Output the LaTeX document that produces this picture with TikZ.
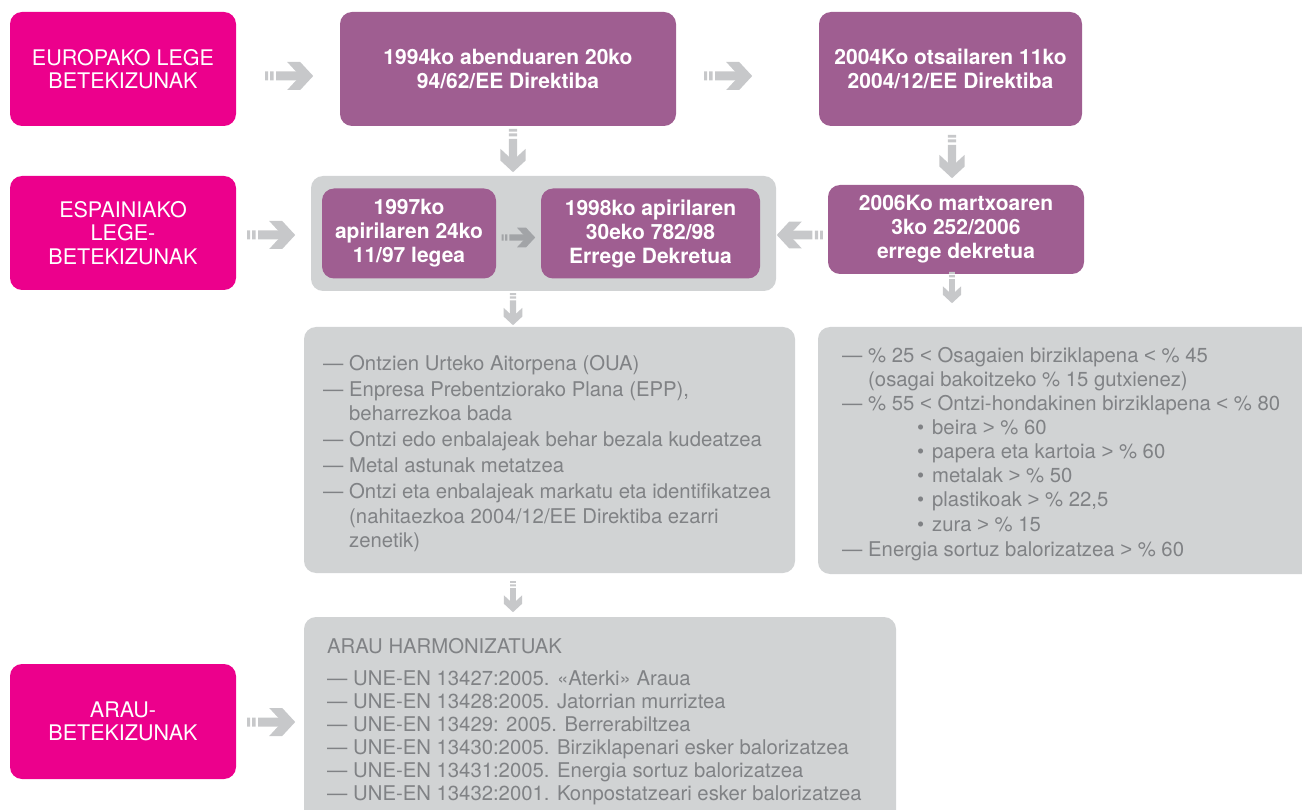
\documentclass[tikz,border=0pt]{standalone}
\usepackage{fontspec}
\setmainfont{TeX Gyre Heros}
\newfontfamily\signfont{Liberation Sans}
\usetikzlibrary{calc}
\definecolor{levelpink}{HTML}{EC008C}
\definecolor{lawpurple}{HTML}{9F5E91}
\definecolor{panelgray}{HTML}{D1D3D4}
\definecolor{arrowgray}{HTML}{C7C8CA}
\definecolor{innerarrowgray}{HTML}{A2A4A7}
\definecolor{notegray}{HTML}{808285}
\newcommand{\dashitem}{\makebox[26pt][l]{—}}
\newcommand{\hangpad}{\hspace*{26pt}}
\newcommand{\dotitem}{\hspace*{75pt}\makebox[15pt][l]{\textbullet}}
\newcommand{\ltsign}{{\signfont<}}
\newcommand{\gtsign}{{\signfont>}}
\begin{document}
\begin{tikzpicture}[x=1pt,y=-1pt,
  box/.style={rounded corners=12pt, inner sep=0pt, align=center, text=white},
  levelbox/.style={box, fill=levelpink, minimum width=226pt, minimum height=114pt,
    font=\fontsize{21.5}{23.5}\selectfont},
  lawbox/.style={box, fill=lawpurple, font=\bfseries\fontsize{21}{24}\selectfont},
  panel/.style={rounded corners=12pt, fill=panelgray, inner sep=0pt},
  notes/.style={text=notegray, align=left, inner sep=0pt, anchor=north west},
  arrowfill/.style={fill=arrowgray},
  barrow/.pic={
    \fill[arrowfill] (-48,-4.5) rectangle (-45,4.5)
                     (-43,-4.5) rectangle (-39.7,4.5)
                     (-37,-4.5) rectangle (-12,4.5);
    \fill[arrowfill] (-26,-14) -- (-13,-14) -- (0,0) -- (-13,14)
                     -- (-26,14) -- (-13,0) -- cycle;
  }
]
\useasboundingbox (0,0) rectangle (1302,810);
\clip (0,0) rectangle (1302,810);

% level labels on the left
\node[levelbox] (eu)   at (123,69)    {EUROPAKO LEGE\\BETEKIZUNAK};
\node[levelbox] (es)   at (123,233)   {ESPAINIAKO\\LEGE-\\BETEKIZUNAK};
\node[levelbox, minimum height=115pt] (arau) at (123,721.5) {ARAU-\\BETEKIZUNAK};

% European directives
\node[lawbox, minimum width=336pt, minimum height=114pt] (d94) at (508,69)
  {1994ko abenduaren 20ko\\94/62/EE Direktiba};
\node[lawbox, minimum width=263pt, minimum height=114pt] (d04) at (950.5,69)
  {2004Ko otsailaren 11ko\\2004/12/EE Direktiba};

% Spanish law and decrees
\node[panel, minimum width=465pt, minimum height=115pt] (cont) at (543.5,233.5) {};
\node[lawbox, minimum width=174pt, minimum height=90pt] (l97) at (409,233.5)
  {1997ko\\apirilaren 24ko\\11/97 legea};
\node[lawbox, minimum width=219pt, minimum height=90pt] (rd98) at (650.5,233.5)
  {1998ko apirilaren\\30eko 782/98\\Errege Dekretua};
\node[lawbox, minimum width=256pt, minimum height=89pt] (rd06) at (956,229.5)
  {2006Ko martxoaren\\3ko 252/2006\\errege dekretua};

% obligations and targets
\node[panel, minimum width=491pt, minimum height=246pt] (oblig) at (549.5,450) {};
\node[panel, minimum width=502pt, minimum height=247pt] (rates) at (1069,450.5) {};
\node[panel, minimum width=592pt, minimum height=220pt] (harm) at (600,727) {};

\node[notes, font=\fontsize{20.3}{24.5}\selectfont] (obligtext) at (323,355) {%
\dashitem Ontzien Urteko Aitorpena (OUA)\\[1.5pt]
\dashitem Enpresa Prebentziorako Plana (EPP),\\
\hangpad beharrezkoa bada\\[1.5pt]
\dashitem Ontzi edo enbalajeak behar bezala kudeatzea\\[1.5pt]
\dashitem Metal astunak metatzea\\[1.5pt]
\dashitem Ontzi eta enbalajeak markatu eta identifikatzea\\
\hangpad (nahitaezkoa 2004/12/EE Direktiba ezarri\\
\hangpad zenetik)};

\node[notes, font=\fontsize{20.3}{24.1}\selectfont] (ratestext) at (842,347) {%
\dashitem \% 25 \ltsign{} Osagaien birziklapena \ltsign{} \% 45\\
\hangpad (osagai bakoitzeko \% 15 gutxienez)\\
\dashitem \% 55 \ltsign{} Ontzi-hondakinen birziklapena \ltsign{} \% 80\\
\dotitem beira \gtsign{} \% 60\\
\dotitem papera eta kartoia \gtsign{} \% 60\\
\dotitem metalak \gtsign{} \% 50\\
\dotitem plastikoak \gtsign{} \% 22,5\\
\dotitem zura \gtsign{} \% 15\\[1pt]
\dashitem Energia sortuz balorizatzea \gtsign{} \% 60};

\node[notes, font=\fontsize{20.3}{23.1}\selectfont] (harmtext) at (327,638) {%
ARAU HARMONIZATUAK\\[9pt]
\dashitem UNE-EN 13427:2005. «Aterki» Araua\\
\dashitem UNE-EN 13428:2005. Jatorrian murriztea\\
\dashitem UNE-EN 13429: 2005. Berrerabiltzea\\
\dashitem UNE-EN 13430:2005. Birziklapenari esker balorizatzea\\
\dashitem UNE-EN 13431:2005. Energia sortuz balorizatzea\\
\dashitem UNE-EN 13432:2001. Konpostatzeari esker balorizatzea};

% block arrows between the boxes
\pic at ($(eu.east)+(77,7)$) {barrow};
\pic at ($(d94.east)+(76,7)$) {barrow};
\pic[rotate=-90, scale=0.9] at ($(d94.south)+(5,46)$) {barrow};
\pic[rotate=-90, scale=0.9] at ($(d04.south)+(1.5,52)$) {barrow};
\pic at ($(es.east)+(59,2)$) {barrow};
\pic[scale=0.7, arrowfill/.style={fill=innerarrowgray}] at ($(l97.east)+(39,4)$) {barrow};
\pic[rotate=180, scale=0.96] at ($(rd06.west)+(-51,5.5)$) {barrow};
\pic[rotate=-90, scale=0.65] at ($(rd06.south)+(-4,29)$) {barrow};
\pic[rotate=-90, scale=0.67] at ($(cont.south)+(-30.5,34)$) {barrow};
\pic[rotate=-90, scale=0.65] at ($(oblig.south)+(-36.5,39)$) {barrow};
\pic at ($(arau.east)+(59,0.5)$) {barrow};
\end{tikzpicture}
\end{document}
